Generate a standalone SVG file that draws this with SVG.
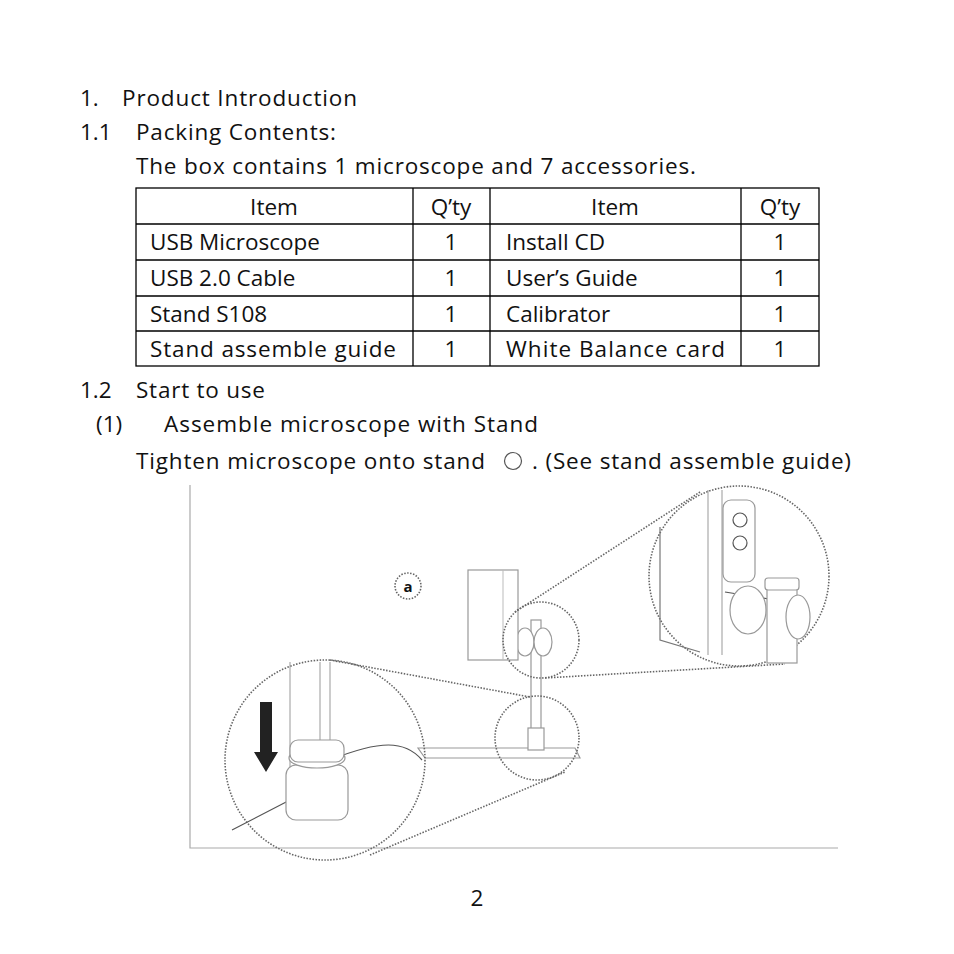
<svg xmlns="http://www.w3.org/2000/svg" width="954" height="954" viewBox="0 0 954 954">
<style>
text{font-family:"Open Sans","Liberation Sans",sans-serif;font-size:22.5px;fill:#111}
.c{text-anchor:middle}
.t{stroke:#000;stroke-width:1.3;fill:none}
.d{stroke:#666;stroke-width:1.6;fill:none;stroke-dasharray:1.5 1.5}
.l{stroke:#999;stroke-width:1.2;fill:#fff}
.k{stroke:#555;stroke-width:1.2;fill:none}
</style>
<rect width="954" height="954" fill="#fff"/>
<g id="headings">
<text x="80" y="106">1.</text><text x="122" y="106" textLength="235">Product Introduction</text>
<text x="80" y="140">1.1</text><text x="136" y="140" textLength="200">Packing Contents:</text>
<text x="136" y="174" textLength="560">The box contains 1 microscope and 7 accessories.</text>
<text x="80" y="398">1.2</text><text x="136" y="398" textLength="129">Start to use</text>
<text x="96" y="432">(1)</text><text x="164" y="432" textLength="374">Assemble microscope with Stand</text>
<text x="136" y="469" textLength="349">Tighten microscope onto stand</text>
<circle cx="513" cy="461" r="8.5" class="k"/>
<text x="532" y="469" textLength="319">. (See stand assemble guide)</text>
<text x="477" y="906" class="c">2</text>
</g>
<g id="table">
<rect x="136" y="188" width="683" height="178" class="t"/>
<path class="t" d="M136 224H819M136 260H819M136 296H819M136 331H819M413 188V366M490 188V366M741 188V366"/>
<text x="274" y="215" class="c">Item</text><text x="451" y="215" class="c">Q’ty</text><text x="615" y="215" class="c">Item</text><text x="780" y="215" class="c">Q’ty</text>
<text x="150" y="250">USB Microscope</text><text x="451" y="250" class="c">1</text><text x="506" y="250">Install CD</text><text x="780" y="250" class="c">1</text>
<text x="150" y="286">USB 2.0 Cable</text><text x="451" y="286" class="c">1</text><text x="506" y="286">User’s Guide</text><text x="780" y="286" class="c">1</text>
<text x="150" y="322">Stand S108</text><text x="451" y="322" class="c">1</text><text x="506" y="322">Calibrator</text><text x="780" y="322" class="c">1</text>
<text x="150" y="357" textLength="246">Stand assemble guide</text><text x="451" y="357" class="c">1</text><text x="506" y="357" textLength="219">White Balance card</text><text x="780" y="357" class="c">1</text>
</g>
<g id="illustration">
<path d="M190 485V848H838" stroke="#aaa" stroke-width="1.2" fill="none"/>
<circle cx="408" cy="586" r="13" class="d"/>
<text x="408" y="592" class="c" style="font-size:15px;font-weight:bold">a</text>
<path d="M418 748L575 748L580 758L425 758Z" class="l"/>
<rect x="531" y="620" width="10" height="128" class="l"/>
<rect x="528" y="728" width="16" height="22" class="l"/>
<ellipse cx="525" cy="642" rx="9" ry="14" class="l"/>
<ellipse cx="543" cy="642" rx="9" ry="14" class="l"/>
<rect x="468" y="570" width="50" height="90" class="l"/>
<path d="M503 570V660" stroke="#bbb" fill="none"/>
<circle cx="541" cy="640" r="38" class="d"/>
<circle cx="537" cy="738" r="42" class="d"/>
<circle cx="739" cy="576" r="90" class="d" fill="#fff"/>
<circle cx="325" cy="760" r="100" class="d" fill="#fff"/>
<path class="d" d="M515 612L700 492M545 678L785 664M330 660L530 697M370 855L565 772"/>
<path d="M660 527V640L700 652" stroke="#777" stroke-width="1.2" fill="none"/>
<path d="M708 490V655M722 490V655" stroke="#999" fill="none"/>
<rect x="723" y="500" width="32" height="82" rx="8" class="l"/>
<circle cx="740" cy="520" r="7" class="k"/><circle cx="740" cy="543" r="7" class="k"/>
<path d="M725 592L775 600" class="k"/>
<rect x="767" y="583" width="30" height="80" class="l"/>
<rect x="765" y="578" width="34" height="12" rx="3" class="l"/>
<ellipse cx="798" cy="617" rx="12" ry="22" class="l"/>
<ellipse cx="748" cy="610" rx="18" ry="24" class="l"/>
<path d="M290 662V780M320 662V750M330 662V750" stroke="#999" fill="none"/>
<path d="M232 830L290 800M330 760C380 740 405 740 422 760" class="k"/>
<rect x="286" y="765" width="62" height="55" rx="10" class="l"/>
<ellipse cx="317" cy="758" rx="28" ry="10" class="l"/>
<rect x="290" y="740" width="54" height="22" rx="8" class="l"/>
<path d="M260 702H272V752H278L266 772L254 752H260Z" fill="#222"/>
</g>
</svg>
